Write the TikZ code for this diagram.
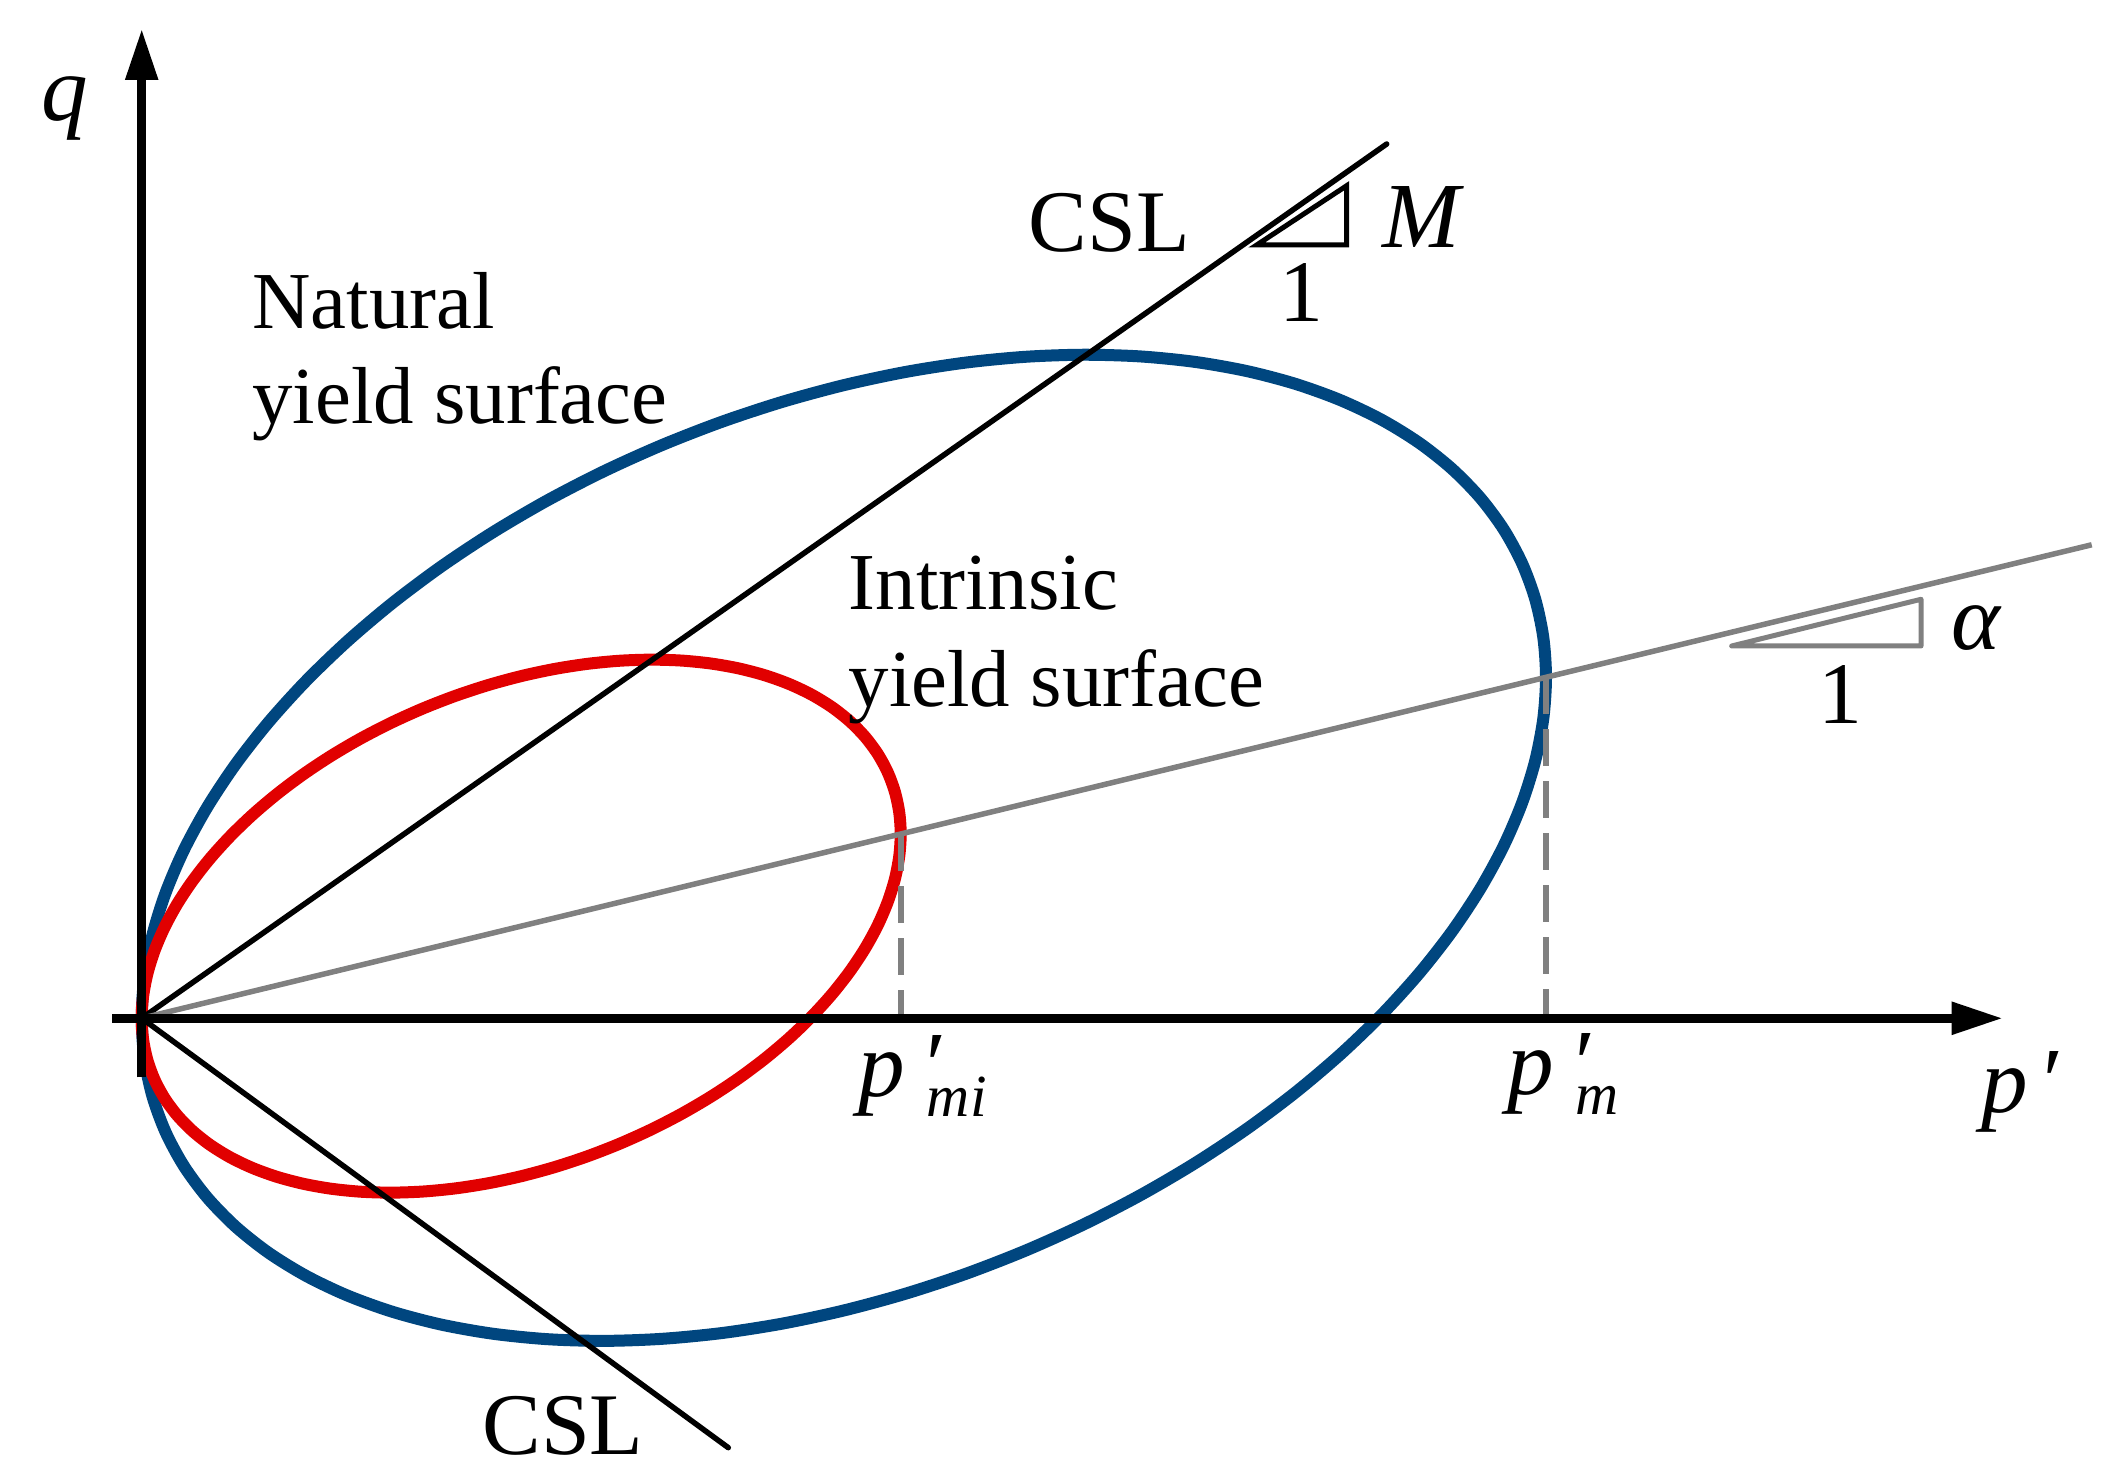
\documentclass[tikz,border=0pt]{standalone}
\usepackage{fontspec}
\setmainfont{Liberation Serif}
\usetikzlibrary{arrows.meta,positioning}
\definecolor{natblue}{RGB}{0,70,127}
\definecolor{intred}{RGB}{225,0,0}
\definecolor{slopegray}{RGB}{128,128,128}
\tikzset{axis/.style={line width=0.085cm,-{Triangle[length=0.51cm,width=0.31cm]}},
         csl/.style={line width=0.055cm,line cap=round},
         surf/.style={line width=0.12cm},
         guide/.style={slopegray,line width=0.06cm,dash pattern=on 0.37cm off 0.15cm},
         lbl/.style={font=\fontsize{23}{28}\selectfont,inner sep=0pt,anchor=base west},
         big/.style={font=\fontsize{25}{30}\selectfont,inner sep=0pt},
         sym/.style={font=\fontsize{26.5}{32}\selectfont\itshape,inner sep=0pt},
            }
\newcommand{\psub}[1]{p\kern0.16cm\rlap{′}\kern0.06cm{\fontsize{17}{20}\selectfont\raisebox{-0.2cm}{#1}}}

\begin{document}
\begin{tikzpicture}
    \useasboundingbox (-1.417,-4.637) rectangle (19.773,10.183);
    \def\alp{0.2428}
    \def\slp{0.6589}
    \def\pmn{14.043}
    \def\pmi{7.59}

    \coordinate (O) at (0,0);
    \coordinate (qtop) at (0,9.893);
    \coordinate (qbot) at (0,-0.59);
    \coordinate (pleft) at (-0.297,0);
    \coordinate (ptip) at (18.61,0);
    \coordinate (cslup) at (12.45,8.743);
    \coordinate (csldown) at (5.866,-4.294);
    \coordinate (alend) at (19.50,4.735);
    \coordinate (pm) at (\pmn,0);
    \coordinate (pmtop) at (\pmn,{\alp*\pmn});
    \coordinate (pmi) at (\pmi,0);
    \coordinate (pmitop) at (\pmi,{\alp*\pmi});

    % yield surfaces
    \draw[surf,natblue] plot[smooth cycle,domain=0:355,samples=72]
        ({\pmn/2*(1+cos(\x))},{\alp*\pmn/2*(1+cos(\x))+\slp*\pmn/2*sin(\x)});
    \draw[surf,intred] plot[smooth cycle,domain=0:355,samples=72]
        ({\pmi/2*(1+cos(\x))},{\alp*\pmi/2*(1+cos(\x))+\slp*\pmi/2*sin(\x)});

    % lines
    \draw[csl] (O) -- (cslup);
    \draw[csl] (O) -- (csldown);
    \draw[slopegray,line width=0.055cm] (O) -- (alend);
    \draw[guide] (pmtop) -- (pm);
    \draw[guide] (pmitop) -- (pmi);

    % axes
    \draw[axis] (qbot) -- (qtop);
    \draw[axis] (pleft) -- (ptip);

    % slope triangles
    \draw[line width=0.05cm] (11.15,7.733) -- (12.05,7.733) -- (12.05,8.326) -- cycle;
    \draw[slopegray,line width=0.05cm,line join=round,line cap=round]
        (15.9,3.723) -- (17.793,3.723) -- (17.793,4.19) -- cycle;

    % labels
    \node[sym,anchor=base] (q) at (-0.767,8.973) {q};
    \node[sym,anchor=base west] (p) at (18.39,-0.94) {p\kern0.1cm′};
    \node[sym,anchor=base west] (pmlbl) at (13.65,-0.767) {\psub{m}};
    \node[sym,anchor=base west] (pmilbl) at (7.16,-0.787) {\psub{mi}};
    \node[big,anchor=base west] (csl1) at (8.863,7.666) {CSL};
    \node[big,anchor=base west] (csl2) at (3.40,-4.367) {CSL};
    \node[sym,anchor=base west] (M) at (12.40,7.703) {M};
    \node[big,anchor=base] (one1) at (11.593,6.963) {1};
    \node[sym,anchor=base west] (al) at (18.09,3.683) {α};
    \node[big,anchor=base] (one2) at (16.983,2.943) {1};
    \node[lbl] (nat1) at (1.10,6.90) {Natural};
    \node[lbl] (nat2) [below=0.95cm of nat1.base west,anchor=base west] {yield surface};
    \node[lbl] (int1) at (7.063,4.083) {Intrinsic};
    \node[lbl] (int2) [below=0.967cm of int1.base west,anchor=base west] {yield surface};

\end{tikzpicture}
\end{document}
